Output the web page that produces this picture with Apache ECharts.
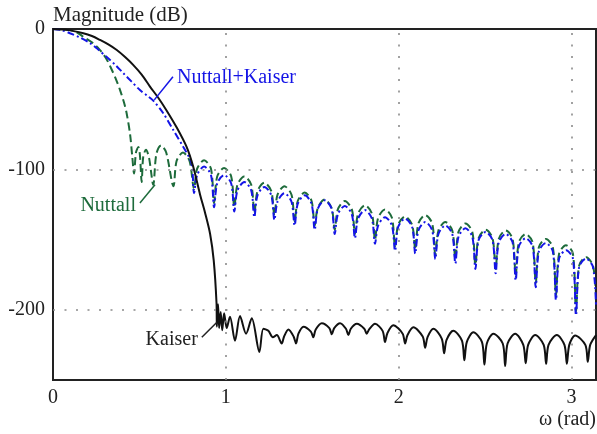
<!DOCTYPE html>
<html>
<head>
<meta charset="utf-8">
<script src="https://cdn.jsdelivr.net/npm/echarts@6/dist/echarts.min.js"></script>
<style>html,body{margin:0;padding:0;background:#fff}#c{width:597px;height:434px}</style>
</head>
<body>
<div id="c"></div>
<script>
// ---- data (omega in rad, magnitude in dB) ----
var xTicks = [0, 1, 2, 3];
var yTicks = [0, -100, -200];
var seriesNames = ['Nuttall', 'Nuttall+Kaiser', 'Kaiser'];

var nuttall = [
  [0,0],[0.05,-0.2],[0.098,-0.7],[0.14,-2.5],[0.175,-5.5],[0.225,-9.5],[0.272,-15],[0.31,-21.5],[0.340,-29],[0.365,-36],[0.388,-43.5],[0.41,-52],[0.426,-60],[0.446,-75],[0.458,-90],[0.469,-103],
  [0.480,-88],[0.494,-84],[0.503,-90],[0.513,-109],[0.522,-91],[0.538,-86],[0.556,-92],[0.580,-111],[0.598,-89],[0.625,-83],[0.655,-88],[0.697,-112],[0.715,-94],[0.752,-88],[0.790,-94],
  [0.816,-114],[0.834,-99.5],[0.874,-93.5],[0.914,-99.5],
  [0.932,-124],[0.950,-105],[0.990,-99],[1.031,-105],
  [1.049,-127],[1.067,-111],[1.107,-105],[1.147,-111],
  [1.165,-131],[1.183,-115.5],[1.223,-109.5],[1.263,-115.5],
  [1.281,-133],[1.299,-118],[1.339,-112],[1.380,-118],
  [1.398,-137],[1.416,-122.5],[1.456,-116.5],[1.496,-122.5],
  [1.514,-140],[1.532,-127.5],[1.572,-121.5],[1.612,-127.5],
  [1.630,-143],[1.648,-128.5],[1.688,-122.5],[1.729,-128.5],
  [1.747,-146],[1.765,-131.5],[1.805,-125.5],[1.845,-131.5],
  [1.863,-150],[1.881,-134.5],[1.921,-128.5],[1.961,-134.5],
  [1.979,-155],[1.997,-139.5],[2.037,-133.5],[2.078,-139.5],
  [2.096,-157],[2.114,-138.5],[2.154,-132.5],[2.194,-138.5],
  [2.212,-161],[2.230,-143.5],[2.270,-137.5],[2.310,-143.5],
  [2.328,-164],[2.346,-144.5],[2.386,-138.5],[2.426,-144.5],
  [2.444,-168],[2.462,-149],[2.503,-143],[2.543,-149],
  [2.561,-171],[2.579,-149.5],[2.619,-143.5],[2.659,-149.5],
  [2.677,-176],[2.695,-152],[2.735,-146],[2.775,-152],
  [2.793,-181],[2.811,-155.5],[2.851,-149.5],[2.892,-155.5],
  [2.910,-190],[2.928,-160],[2.968,-154],[3.008,-160],
  [3.026,-201],[3.044,-168.5],[3.084,-162.5],[3.124,-168.5],
  [3.142,-190]
];

var nuttallKaiser = [
  [0,0],[0.05,-0.8],[0.098,-3],[0.155,-6],[0.214,-10],[0.26,-14.5],[0.311,-20],[0.36,-25.5],[0.407,-31.5],[0.455,-37.5],[0.503,-43.5],[0.545,-47.5],[0.580,-51],[0.638,-60],[0.696,-72],[0.754,-84],[0.790,-92],[0.805,-98],
  [0.816,-117],[0.834,-104],[0.874,-98],[0.914,-104],
  [0.932,-127],[0.950,-110],[0.990,-104],[1.031,-110],
  [1.049,-130],[1.067,-115],[1.107,-109],[1.147,-115],
  [1.165,-134],[1.183,-118.5],[1.223,-112.5],[1.263,-118.5],
  [1.281,-136],[1.299,-123],[1.339,-117],[1.380,-123],
  [1.398,-140],[1.416,-124.5],[1.456,-118.5],[1.496,-124.5],
  [1.514,-143],[1.532,-128],[1.572,-122],[1.612,-128],
  [1.630,-146],[1.648,-132],[1.688,-126],[1.729,-132],
  [1.747,-149],[1.765,-135],[1.805,-129],[1.845,-135],
  [1.863,-153],[1.881,-140],[1.921,-134],[1.961,-140],
  [1.979,-158],[1.997,-141],[2.037,-135],[2.078,-141],
  [2.096,-160],[2.114,-143.5],[2.154,-137.5],[2.194,-143.5],
  [2.212,-164],[2.230,-146],[2.270,-140],[2.310,-146],
  [2.328,-167],[2.346,-148],[2.386,-142],[2.426,-148],
  [2.444,-171],[2.462,-150.5],[2.503,-144.5],[2.543,-150.5],
  [2.561,-174],[2.579,-152],[2.619,-146],[2.659,-152],
  [2.677,-179],[2.695,-155],[2.735,-149],[2.775,-155],
  [2.793,-184],[2.811,-158.5],[2.851,-152.5],[2.892,-158.5],
  [2.910,-193],[2.928,-163.5],[2.968,-157.5],[3.008,-163.5],
  [3.026,-204],[3.044,-169.5],[3.084,-163.5],[3.124,-169.5],
  [3.142,-198]
];

var kaiser = [
  [0,0],[0.09,-0.8],[0.175,-3],[0.225,-5],[0.272,-7.8],[0.32,-11],[0.369,-15],[0.417,-20],[0.465,-25.7],[0.513,-32.5],[0.561,-41],[0.609,-49],[0.657,-58],[0.715,-70],[0.773,-84],[0.811,-98],[0.851,-118],[0.880,-131],[0.909,-146],[0.930,-165],[0.946,-195],[0.948,-212],
  [0.955,-196],[0.961,-213],[0.970,-201.5],[0.979,-214.5],[0.990,-202.5],[1.005,-213],[1.024,-205],[1.053,-222],[1.082,-204.5],[1.117,-217],[1.150,-206],[1.194,-230],[1.217,-213.5],[1.246,-215],[1.272,-219.5],[1.295,-218],
  [1.323,-224],[1.337,-219],[1.362,-214],[1.392,-219],
  [1.406,-224],[1.420,-217],[1.449,-212],[1.492,-215.5],
  [1.506,-219.5],[1.520,-214],[1.555,-209.5],[1.599,-213],
  [1.613,-217.5],[1.627,-213],[1.661,-209.5],[1.695,-213.5],
  [1.709,-218],[1.723,-213.5],[1.758,-210],[1.801,-213.5],
  [1.815,-217],[1.829,-214],[1.863,-210],[1.907,-215],
  [1.921,-223],[1.935,-216.5],[1.969,-211],[2.023,-217],
  [2.037,-224],[2.051,-218],[2.085,-212.5],[2.139,-219],
  [2.153,-227],[2.167,-219.5],[2.201,-213.5],[2.249,-220.5],
  [2.263,-231],[2.277,-221.5],[2.316,-215],[2.366,-222],
  [2.380,-236],[2.394,-223],[2.432,-216],[2.482,-223],
  [2.496,-239],[2.510,-224],[2.548,-217],[2.602,-224],
  [2.616,-240],[2.630,-224],[2.674,-217],[2.721,-225],
  [2.735,-238],[2.749,-225],[2.790,-218],[2.839,-225],
  [2.853,-238.5],[2.867,-225],[2.915,-218],[2.959,-225],
  [2.973,-238.5],[2.987,-225],[3.021,-218.3],[3.080,-225],
  [3.094,-237],[3.108,-225],[3.142,-218]
];

// annotation anchors (data space): [curve point, label end]
var annNK = [[0.586,-50.5],[0.694,-34]];
var annN  = [[0.590,-111],[0.503,-124]];
var annK  = [[0.947,-209],[0.861,-219.5]];

var FONT = '"Liberation Serif","Times New Roman",serif';
var GREEN = '#1d6b3b', BLUE = '#1414e6', BLACK = '#111';

var chart = echarts.init(document.getElementById('c'), null, {renderer:'canvas'});
var gridLine = {color:'#8a8a8a', width:1.6, type:[2,9.5]};
var option = {
  animation:false,
  grid:{left:53, right:1, top:29, bottom:54, show:true, borderColor:'#222', borderWidth:2, backgroundColor:'transparent', z:3},
  xAxis:{type:'value', min:0, max:Math.PI, interval:1,
    axisLine:{show:false}, axisTick:{show:false}, splitLine:{show:false},
    axisLabel:{margin:8, color:'#222', fontSize:20, fontFamily:FONT, showMaxLabel:false,
      formatter:function(v){return xTicks.indexOf(Math.round(v*1000)/1000)>=0 ? String(v) : '';}}},
  yAxis:{type:'value', min:-250, max:0, interval:50,
    axisLine:{show:false}, axisTick:{show:false}, splitLine:{show:false},
    axisLabel:{margin:8, color:'#222', fontSize:20, fontFamily:FONT,
      formatter:function(v){return yTicks.indexOf(v)>=0 ? String(v) : '';}}},
  series:[
    {name:seriesNames[0], type:'line', data:nuttall, showSymbol:false, smooth:0.3, z:2,
     lineStyle:{color:GREEN, width:2, type:[8,4]},
     markLine:{silent:true, symbol:'none', label:{show:false}, lineStyle:gridLine, animation:false,
       data:[{xAxis:xTicks[1]},{xAxis:xTicks[2]},{xAxis:xTicks[3]},{yAxis:yTicks[1]},{yAxis:yTicks[2]}]}},
    {name:seriesNames[1], type:'line', data:nuttallKaiser, showSymbol:false, smooth:0.3, z:3,
     lineStyle:{color:BLUE, width:2, type:[7,3,2,3]}},
    {name:seriesNames[2], type:'line', data:kaiser, showSymbol:false, smooth:0.3, z:4,
     lineStyle:{color:BLACK, width:2}}
  ]
};
chart.setOption(option);

function px(p){return chart.convertToPixel({gridIndex:0}, p);}
function leader(a, col){
  var p0 = px(a[0]), p1 = px(a[1]);
  return {type:'line', shape:{x1:p0[0],y1:p0[1],x2:p1[0],y2:p1[1]}, style:{stroke:col, lineWidth:1.5}, z:10};
}
var nk = px(annNK[1]), n1 = px(annN[1]), k1 = px(annK[1]);
chart.setOption({graphic:[
  {type:'text', x:53, y:15, style:{text:'Magnitude (dB)', fill:'#222', fontSize:21, fontFamily:FONT, align:'left', verticalAlign:'middle'}},
  {type:'text', x:596, y:420, style:{text:'ω (rad)', fill:'#222', fontSize:20, fontFamily:FONT, align:'right', verticalAlign:'middle'}},
  leader(annNK, BLUE), leader(annN, GREEN), leader(annK, '#222'),
  {type:'text', x:nk[0]+4, y:nk[1]+1, z:10, style:{text:seriesNames[1], fill:BLUE, fontSize:20, fontFamily:FONT, align:'left', verticalAlign:'middle'}},
  {type:'text', x:n1[0]-4, y:n1[1]+3, z:10, style:{text:seriesNames[0], fill:GREEN, fontSize:20, fontFamily:FONT, align:'right', verticalAlign:'middle'}},
  {type:'text', x:k1[0]-4, y:k1[1]+3, z:10, style:{text:seriesNames[2], fill:'#222', fontSize:20, fontFamily:FONT, align:'right', verticalAlign:'middle'}}
]});
</script>
</body>
</html>
